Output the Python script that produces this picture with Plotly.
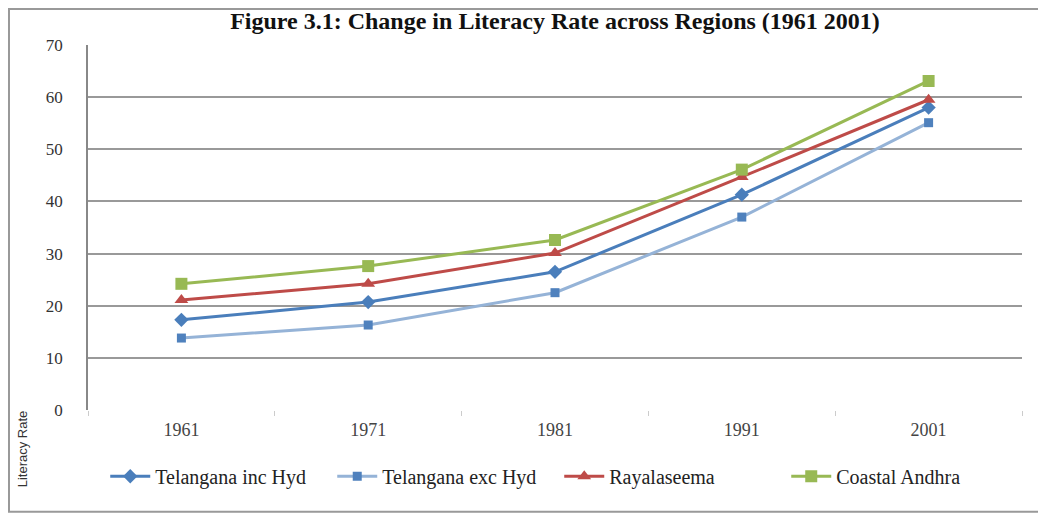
import plotly.graph_objects as go

YEARS = ["1961", "1971", "1981", "1991", "2001"]

TELANGANA_INC_HYD = [17.3, 20.7, 26.5, 41.3, 58.0]
TELANGANA_EXC_HYD = [13.8, 16.3, 22.5, 37.0, 55.1]
RAYALASEEMA = [21.1, 24.2, 30.1, 44.7, 59.5]
COASTAL_ANDHRA = [24.2, 27.6, 32.6, 46.1, 63.1]

SERIES = [
    ("Telangana inc Hyd", TELANGANA_INC_HYD, "#4A7EBB", "#4A7EBB", "diamond", 11),
    ("Telangana exc Hyd", TELANGANA_EXC_HYD, "#95B3D7", "#4F81BD", "square", 9),
    ("Rayalaseema", RAYALASEEMA, "#BE4B48", "#BE4B48", "triangle-up", 12),
    ("Coastal Andhra", COASTAL_ANDHRA, "#98B954", "#98B954", "square", 12),
]

fig = go.Figure()

for name, values, line_color, marker_color, symbol, size in SERIES:
    fig.add_trace(go.Scatter(
        x=YEARS,
        y=values,
        name=name,
        mode="lines+markers",
        line=dict(color=line_color, width=3),
        marker=dict(color=marker_color, symbol=symbol, size=size),
    ))

serif = "Liberation Serif, Times New Roman, serif"

fig.update_layout(
    width=1046,
    height=514,
    margin=dict(l=80, r=32, t=37, b=112, autoexpand=False),
    paper_bgcolor="white",
    plot_bgcolor="white",
    font=dict(family=serif, size=16, color="#333333"),
    title=dict(
        text="<b>Figure 3.1: Change in Literacy Rate across Regions (1961 2001)</b>",
        xref="paper",
        x=0.5,
        xanchor="center",
        y=0.975,
        yanchor="middle",
        font=dict(family=serif, size=24, color="#111111"),
    ),
    showlegend=True,
    legend=dict(
        orientation="h",
        xref="container",
        yref="container",
        x=0.527,
        xanchor="center",
        y=0.089,
        yanchor="middle",
        font=dict(family=serif, size=20, color="#222222"),
        entrywidth=172,
        itemwidth=40,
    ),
    xaxis=dict(
        type="category",
        range=[-0.5, 4.5],
        showgrid=False,
        showline=False,
        zeroline=False,
        automargin=False,
        ticks="outside",
        tickson="boundaries",
        ticklen=5,
        tickcolor="#cccccc",
        tickfont=dict(family=serif, size=18, color="#444444"),
        ticklabelstandoff=7,
        fixedrange=True,
    ),
    yaxis=dict(
        range=[0, 70],
        dtick=10,
        showgrid=True,
        gridcolor="#999999",
        gridwidth=1.5,
        showline=True,
        linecolor="#888888",
        linewidth=1.5,
        zeroline=False,
        automargin=False,
        ticks="",
        tickfont=dict(family=serif, size=17, color="#333333"),
        ticklabelstandoff=20,
    ),
    shapes=[
        dict(
            type="rect",
            xref="paper",
            yref="paper",
            x0=-0.0846,
            x1=1.04,
            y0=-0.279,
            y1=1.0986,
            line=dict(color="#999999", width=2),
            fillcolor="rgba(0,0,0,0)",
            layer="below",
        )
    ],
    annotations=[
        dict(
            text="Literacy Rate",
            xref="paper",
            yref="paper",
            x=-0.0707,
            y=-0.105,
            xanchor="center",
            yanchor="middle",
            textangle=-90,
            showarrow=False,
            font=dict(family="Liberation Sans, Arial, sans-serif", size=13, color="#333333"),
        )
    ],
)

fig.write_html("out.html")
